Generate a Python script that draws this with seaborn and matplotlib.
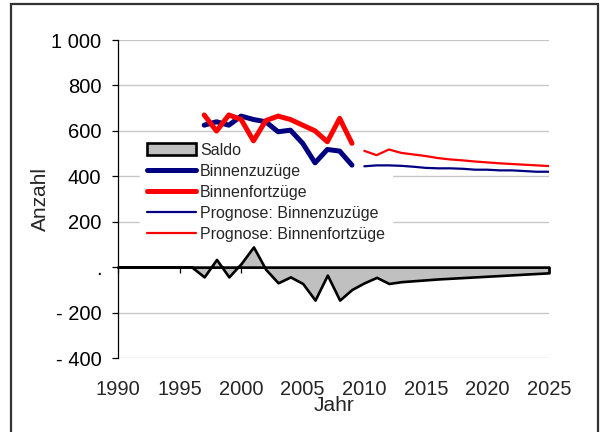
import matplotlib
matplotlib.use("Agg")
import matplotlib.pyplot as plt
import seaborn as sns
from matplotlib.patches import Patch, Rectangle
from matplotlib.lines import Line2D

# ---------------- data ----------------
years_hist = [1997, 1998, 1999, 2000, 2001, 2002, 2003, 2004, 2005, 2006, 2007, 2008, 2009]
binnenzuzuege = [625, 640, 625, 665, 650, 640, 596, 603, 545, 459, 518, 511, 449]
binnenfortzuege = [670, 599, 670, 650, 556, 645, 665, 650, 625, 600, 552, 655, 545]

years_prog = [2010, 2011, 2012, 2013, 2014, 2015, 2016, 2017,
              2018, 2019, 2020, 2021, 2022, 2023, 2024, 2025]
prognose_zuzuege = [444, 448, 448, 446, 442, 437, 435, 435,
                    433, 429, 429, 426, 426, 423, 420, 420]
prognose_fortzuege = [512, 493, 518, 503, 496, 489, 480, 474,
                      470, 465, 461, 457, 454, 451, 448, 445]

years_saldo = [1990, 1991, 1992, 1993, 1994, 1995, 1996,
               1997, 1998, 1999, 2000, 2001, 2002, 2003, 2004, 2005, 2006, 2007, 2008, 2009,
               2010, 2011, 2012, 2013, 2014, 2015, 2016, 2017,
               2018, 2019, 2020, 2021, 2022, 2023, 2024, 2025]
saldo = [0, 0, 0, 0, 0, 0, 0,
         -43, 34, -43, 16, 89, -10, -69, -43, -72, -145, -35, -145, -98,
         -69, -45, -72, -64, -60, -56, -52, -49,
         -46, -43, -40, -37, -34, -31, -28, -25]

x_ticks = [1990, 1995, 2000, 2005, 2010, 2015, 2020, 2025]
y_ticks = [1000, 800, 600, 400, 200, 0, -200, -400]
y_ticklabels = ["1 000", "800", "600", "400", "200", ".", "- 200", "- 400"]
legend_labels = ["Saldo", "Binnenzuzüge", "Binnenfortzüge",
                 "Prognose: Binnenzuzüge", "Prognose: Binnenfortzüge"]

# ---------------- style ----------------
sns.set_style("white")
plt.rcParams["font.family"] = ["Liberation Sans", "DejaVu Sans"]

NAVY = "#000080"
RED = "#FF0000"
GRAY = "#C0C0C0"

fig = plt.figure(figsize=(6, 4.32), dpi=100)
ax = fig.add_axes([118 / 600, 1 - 358 / 432, 431 / 600, 318 / 432])

# Saldo area
ax.fill_between(years_saldo, saldo, 0, facecolor=GRAY, edgecolor="black",
                linewidth=1.9, zorder=2, clip_on=False)

# lines
sns.lineplot(x=years_hist, y=binnenzuzuege, color=NAVY, linewidth=3.6, ax=ax,
             zorder=3, solid_capstyle="round", solid_joinstyle="round")
sns.lineplot(x=years_hist, y=binnenfortzuege, color=RED, linewidth=3.6, ax=ax,
             zorder=4, solid_capstyle="round", solid_joinstyle="round")
sns.lineplot(x=years_prog, y=prognose_zuzuege, color=NAVY, linewidth=1.6, ax=ax,
             zorder=3)
sns.lineplot(x=years_prog, y=prognose_fortzuege, color=RED, linewidth=1.6, ax=ax,
             zorder=4)

# axes limits / ticks
ax.set_xlim(1990, 2025)
ax.set_ylim(-400, 1000)
ax.set_xticks(x_ticks)
ax.set_yticks(y_ticks)
ax.set_yticklabels(y_ticklabels)
ax.tick_params(axis="y", direction="out", length=4, width=0.9, pad=8,
               labelsize=14.5, colors="black", left=True)
ax.tick_params(axis="x", direction="out", length=4, width=0.9,
               labelbottom=False, bottom=True, colors="black")

ax.spines["top"].set_visible(False)
ax.spines["right"].set_visible(False)
ax.spines["left"].set_color("black")
ax.spines["left"].set_linewidth(0.9)
ax.spines["bottom"].set_position(("data", 0))
ax.spines["bottom"].set_color("black")
ax.spines["bottom"].set_linewidth(0.9)

ax.yaxis.grid(True, color="#C8C8C8", linewidth=1.0)
ax.xaxis.grid(False)
ax.set_axisbelow(True)

ax.set_ylabel("Anzahl", fontsize=15)
ax.yaxis.set_label_coords(-0.158, 0.5)
ax.set_xlabel("Jahr", fontsize=15)
ax.xaxis.set_label_coords(0.5, -0.118)

# tick labels at the bottom of the plot area
sec = ax.secondary_xaxis("bottom")
sec.set_xticks(x_ticks)
sec.set_xticklabels([str(t) for t in x_ticks])
sec.tick_params(length=0, pad=15.5, labelsize=14.5)
sec.spines["bottom"].set_visible(False)

# legend (below the series, above the gridlines)
handles = [
    Patch(facecolor=GRAY, edgecolor="black", linewidth=1.9),
    Line2D([], [], color=NAVY, linewidth=3.6, solid_capstyle="round"),
    Line2D([], [], color=RED, linewidth=3.6, solid_capstyle="round"),
    Line2D([], [], color=NAVY, linewidth=1.6),
    Line2D([], [], color=RED, linewidth=1.6),
]
leg = ax.legend(handles=handles, labels=legend_labels, loc="upper left",
                bbox_to_anchor=(0.05, 0.70), borderaxespad=0, borderpad=0.45,
                handlelength=3.1, handletextpad=0.25, labelspacing=0.38,
                fontsize=11.5, frameon=True, fancybox=False, framealpha=1)
leg.get_frame().set_edgecolor("white")
leg.get_frame().set_facecolor("white")
leg.set_zorder(1)

# outer chart border
fig.patches.append(Rectangle((11 / 600, -0.05), 587 / 600, 428 / 432 + 0.05,
                             transform=fig.transFigure, fill=False,
                             edgecolor="#333333", linewidth=1.6))

fig.savefig("out.png", dpi=100)
